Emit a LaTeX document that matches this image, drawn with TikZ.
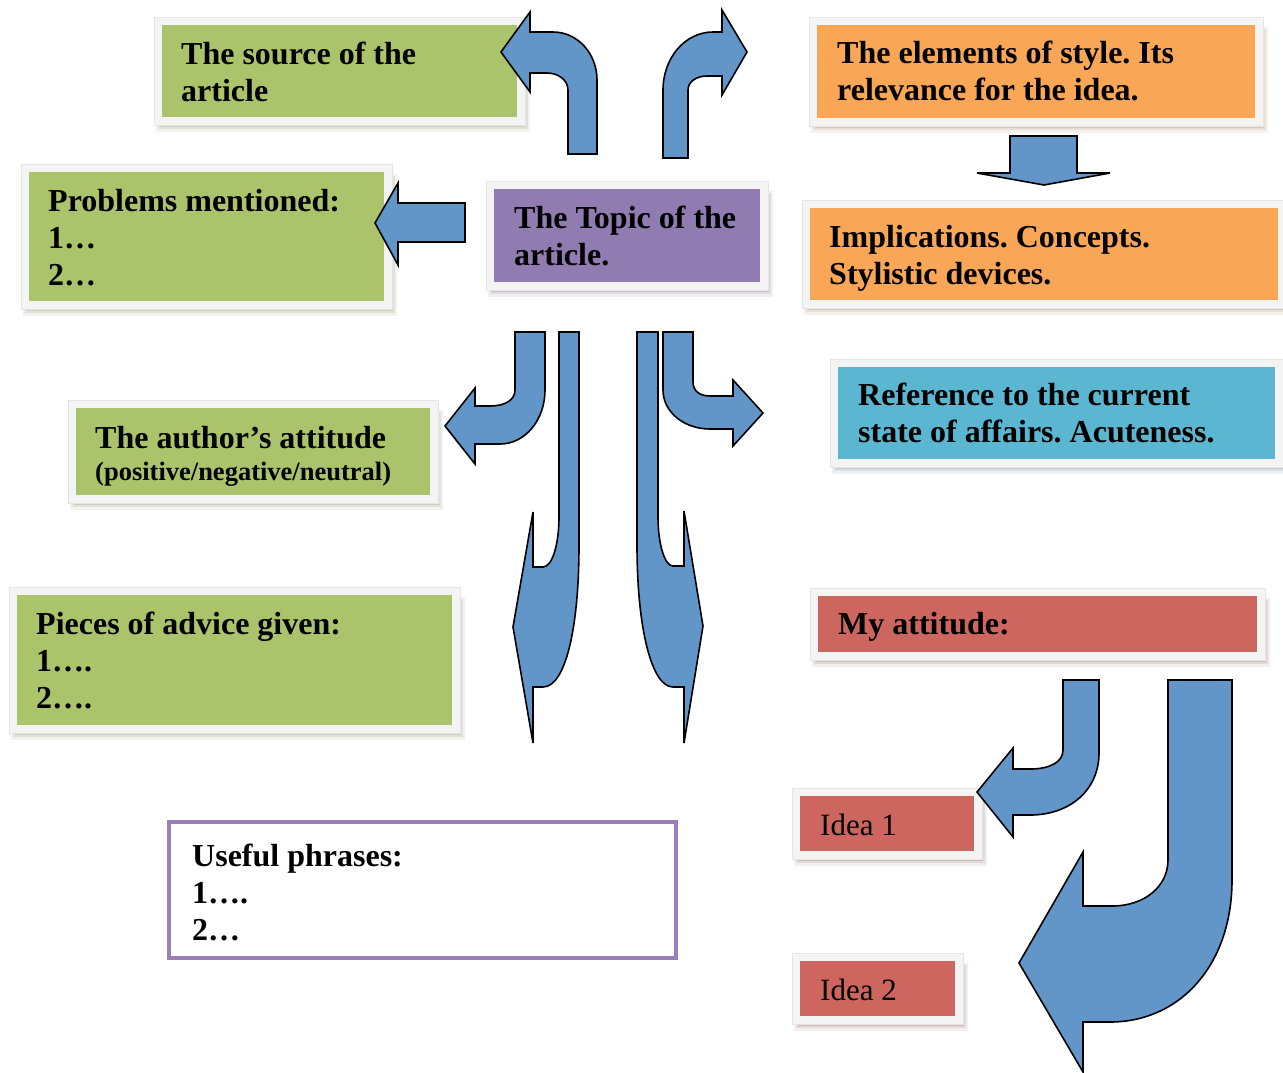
\documentclass[tikz,border=0pt]{standalone}
\usepackage{fontspec}
\setmainfont{Liberation Serif}
\frenchspacing
\definecolor{cgreen}{HTML}{ABC46C}
\definecolor{corange}{HTML}{F9A756}
\definecolor{cblue}{HTML}{5BB7D1}
\definecolor{cred}{HTML}{CC665F}
\definecolor{cpurple}{HTML}{917CB2}
\definecolor{arrowblue}{HTML}{6296C8}
\definecolor{framegray}{HTML}{F4F4F4}
\definecolor{uborder}{HTML}{9A80BA}
\newcommand\mystrut{\rule{0pt}{30pt}}
\newcommand\colbox[6]{%
  \fill[#6!55!black, opacity=0.08] (#2-6,#3+2) rectangle (#4+13,#5+15);
  \fill[#6!55!black, opacity=0.12] (#2-4,#3+4) rectangle (#4+11,#5+12);
  \fill[#6!55!black, opacity=0.16] (#2-2,#3+6) rectangle (#4+9,#5+10);
  \node (#1-frame) [framebox, minimum width={(#4-#2+16)*1pt}, minimum height={(#5-#3+16)*1pt}] at ({(#2+#4)/2},{(#3+#5)/2}) {};
  \node (#1) [fillbox=#6, minimum width={(#4-#2)*1pt}, minimum height={(#5-#3)*1pt}] at ({(#2+#4)/2},{(#3+#5)/2}) {};
}
\tikzset{
  framebox/.style={rectangle, inner sep=0, fill=framegray, draw=gray!20, line width=0.5pt},
  fillbox/.style={rectangle, inner sep=0, fill=#1},
  txt/.style={anchor=north west, inner sep=0, align=left, font=\fontsize{32}{37}\selectfont\bfseries},
  txtreg/.style={anchor=north west, inner sep=0, align=left, font=\fontsize{31}{37}\selectfont},
  arr/.style={fill=arrowblue, draw=black, line width=1.6pt, line join=miter, miter limit=10}
}
\begin{document}
\begin{tikzpicture}[x=1pt, y=-1pt]
\useasboundingbox[fill=white] (0,0) rectangle (1283,1072);

% ---------- boxes ----------
\colbox{src}{162}{25}{517}{117}{cgreen}
\colbox{elem}{817}{25}{1255}{118}{corange}
\colbox{impl}{810}{208}{1278}{300}{corange}
\colbox{ref}{838}{367}{1275}{459}{cblue}
\colbox{prob}{29}{172}{384}{301}{cgreen}
\colbox{topic}{494}{189}{760}{282}{cpurple}
\colbox{author}{76}{408}{430}{495}{cgreen}
\colbox{pieces}{17}{595}{452}{725}{cgreen}
\colbox{myatt}{818}{596}{1257}{652}{cred}
\colbox{idea1}{800}{796}{974}{851}{cred}
\colbox{idea2}{800}{961}{955}{1016}{cred}
\node (useful) [rectangle, draw=uborder, line width=4pt, fill=white, inner sep=0,
  minimum width=507pt, minimum height=136pt] at (422.5,890) {};

% ---------- texts ----------
\node[txt] (srcT) at (181,34) {\mystrut The source of the\\article};
\node[txt] (elemT) at (837,33) {\mystrut The elements of style. Its\\relevance for the idea.};
\node[txt] (implT) at (829,217) {\mystrut Implications. Concepts.\\Stylistic devices.};
\node[txt] (refT) at (858,375) {\mystrut Reference to the current\\state of affairs. Acuteness.};
\node[txt] (probT) at (48,181) {\mystrut Problems mentioned:\\1…\\2…};
\node[txt] (topicT) at (514,198) {\mystrut The Topic of the\\article.};
\node[txt] (authorT) at (95,418) {\mystrut The author’s attitude\\[-5pt]{\fontsize{26.5}{32}\selectfont (positive/negative/neutral)}};
\node[txt] (piecesT) at (36,604) {\mystrut Pieces of advice given:\\1….\\2….};
\node[txt] (myattT) at (838,604) {\mystrut My attitude:};
\node[txt] (usefulT) at (192,836) {\mystrut Useful phrases:\\1….\\2…};
\node[txtreg] (idea1T) at (820,805) {\mystrut Idea 1};
\node[txtreg] (idea2T) at (820,970) {\mystrut Idea 2};

% ---------- block arrows ----------
% top-left U-turn arrow
\draw[arr] (568,154) -- (568,90) .. controls (568,80) and (558,73) .. (547,73)
  -- (530,73) -- (530,92) -- (501,52) -- (530,12) -- (530,32) -- (553,32)
  .. controls (578,32) and (597,54) .. (597,80) -- (597,154) -- cycle;
% top-right bent arrow
\draw[arr] (663,158) -- (663,90) .. controls (663,58) and (685,32) .. (713,32)
  -- (722,32) -- (722,10) -- (747,52) -- (722,95) -- (722,76) -- (707,76)
  .. controls (696,76) and (688,82) .. (688,90) -- (688,158) -- cycle;
% left arrow to problems
\draw[arr] (465,203) -- (398,203) -- (398,183) -- (375,223) -- (398,265)
  -- (398,242) -- (465,242) -- cycle;
% down arrow elements -> implications
\draw[arr] (1010,136) -- (1077,136) -- (1077,173) -- (1110,173) -- (1044,185)
  -- (977,173) -- (1010,173) -- cycle;
% small curved arrow to author
\draw[arr] (515,332) -- (545,332) -- (545,390) .. controls (545,420) and (525,444) .. (500,444)
  -- (475,444) -- (475,464) -- (445,426) -- (475,388) -- (475,406) -- (490,406)
  .. controls (505,406) and (515,400) .. (515,390) -- cycle;
% small curved arrow to reference
\draw[arr] (663,332) -- (693,332) -- (693,382) .. controls (693,391) and (700,396) .. (710,396)
  -- (733,396) -- (733,380) -- (763,413) -- (733,446) -- (733,429) -- (710,429)
  .. controls (684,429) and (663,412) .. (663,390) -- cycle;
% long left downward arrow
\draw[arr] (559,332) -- (579,332) -- (579,545) .. controls (579,630) and (565,687) .. (543,687)
  -- (533,687) -- (533,743) -- (513,627) -- (533,512) -- (533,567) -- (543,567)
  .. controls (552,567) and (559,545) .. (559,517) -- cycle;
% long right downward arrow
\draw[arr] (637,332) -- (658,332) -- (658,517) .. controls (658,545) and (665,566) .. (673,566)
  -- (684,566) -- (684,511) -- (703,626) -- (684,743) -- (684,687) -- (673,687)
  .. controls (652,687) and (637,630) .. (637,545) -- cycle;
% small arrow to idea 1
\draw[arr] (1063,680) -- (1099,680) -- (1099,753) .. controls (1099,790) and (1070,815) .. (1030,815)
  -- (1013,815) -- (1013,837) -- (977,792) -- (1013,748) -- (1013,769) -- (1030,769)
  .. controls (1050,769) and (1063,762) .. (1063,750) -- cycle;
% big arrow to idea 2
\draw[arr] (1168,680) -- (1232,680) -- (1232,880) .. controls (1232,965) and (1180,1022) .. (1110,1022)
  -- (1083,1022) -- (1083,1072) -- (1019,963) -- (1083,852) -- (1083,906) -- (1112,906)
  .. controls (1145,906) and (1168,886) .. (1168,860) -- cycle;
\end{tikzpicture}
\end{document}
